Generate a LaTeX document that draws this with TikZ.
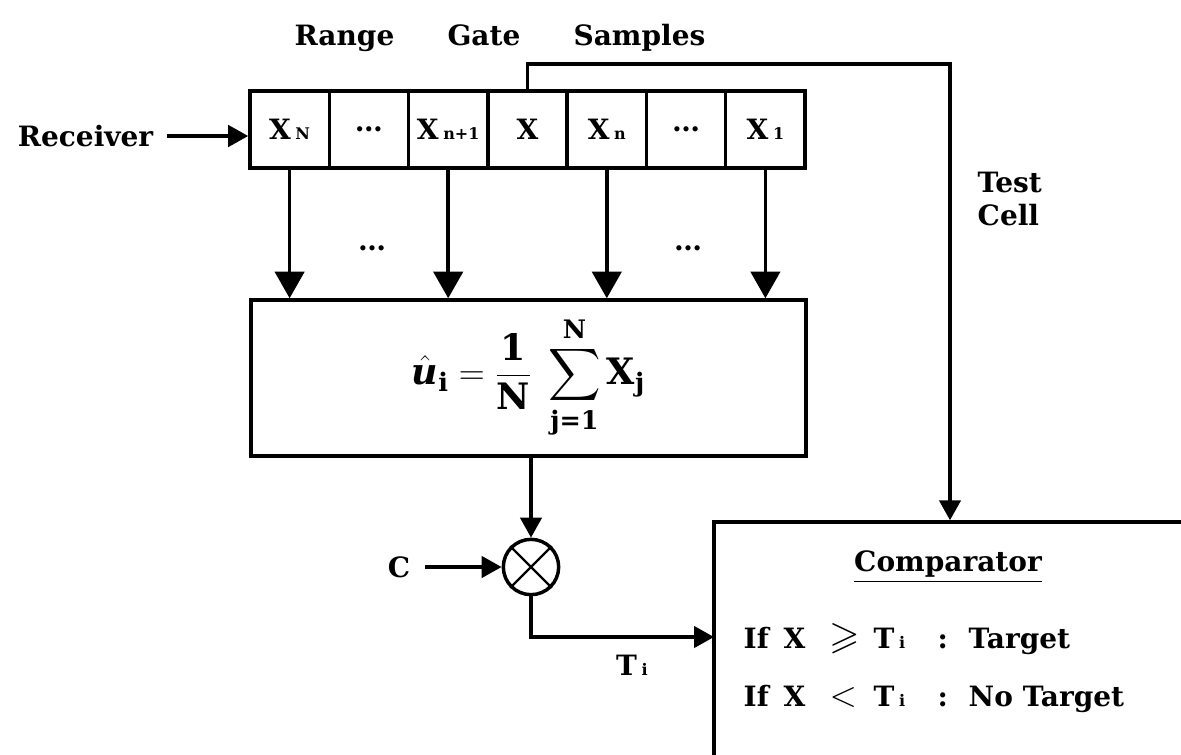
\documentclass[tikz,border=0pt]{standalone}
\usepackage{amsmath,amssymb,graphicx}
\usepackage{fontspec}
\setmainfont{DejaVu Serif}
\usetikzlibrary{arrows.meta}
\newcommand\lsub[1]{{\fontsize{12}{12}\selectfont #1}}
\begin{document}
\begin{tikzpicture}[x=0.75pt,y=-0.75pt,
  font=\bfseries\fontsize{21}{25}\selectfont,
  line width=2.6pt,
  cell/.style={draw, minimum width=59.47pt, minimum height=57.75pt, inner sep=0pt},
  arr/.style={-{Triangle[length=15pt,width=16pt]}},
  bigarr/.style={-{Triangle[length=20pt,width=22pt]}},
  lbl/.style={inner sep=0pt}]
\fill[white] (0,0) rectangle (1181,754);
\useasboundingbox (0,0) rectangle (1181,754);

\node[lbl] (title) at (500,38) {Range\hspace{1.9em}Gate\hspace{1.9em}Samples};
\node[lbl,anchor=east] (rec) at (155,136) {Receiver};

\node[cell] (c1) at (289.6,129.5) {X\,\lsub{N}};
\node[cell] (c2) at (368.9,129.5) {\dots};
\node[cell] (c3) at (448.2,129.5) {X\,\lsub{n+1}};
\node[cell] (c4) at (527.5,129.5) {X};
\node[cell] (c5) at (606.8,129.5) {X\,\lsub{n}};
\node[cell] (c6) at (686.1,129.5) {\dots};
\node[cell] (c7) at (765.4,129.5) {X\,\lsub{1}};

\draw[arr, shorten <=9pt] (rec.east) -- (c1.west |- rec.east);

\node[draw, minimum width=416.25pt, minimum height=117pt, inner sep=0pt] (fbox) at (528.5,378)
  {\scalebox{1.3}{$\displaystyle \hat{\text{\textit{u}}}_{\text{i}} = \frac{\text{1}}{\text{N}}\;\sum_{\text{j=1}}^{\text{N}} \text{X}_{\text{j}}$}};

\node[lbl, anchor=base] (d1) at (372,250) {\dots};
\node[lbl, anchor=base] (d2) at (688,250) {\dots};

\foreach \c in {c1,c3,c5,c7}
  \draw[bigarr] (\c.south) -- (\c.south |- fbox.north);

\node[draw, circle, minimum size=41.5pt, inner sep=0pt] (m) at (531,567) {};
\draw[line width=1.8pt] (m.north west) -- (m.south east) (m.north east) -- (m.south west);
\draw[arr] (m |- fbox.south) -- (m.north);

\node[lbl] (cin) at (399,567) {C};
\draw[arr, shorten <=10pt] (cin.east) -- (m.west);

\node[draw, minimum width=379.5pt, minimum height=208.5pt, inner sep=0pt] (cmp) at (967,661) {};
\coordinate (tcorner) at (950,64);
\draw[arr] (c4.north) |- (tcorner) -- (tcorner |- cmp.north);
\node[lbl, anchor=north west, align=left] (tcl) at (976,170) {Test\\Cell};

\coordinate (tin) at (714,637);
\draw[arr] (m.south) |- (tin);
\node[lbl] (ti) at (632,665) {T\,\lsub{i}};

\node[lbl] (ctitle) at (948,567) {\underline{Comparator}};
\node[lbl, anchor=base west] (r1) at (742,648)
  {\makebox[30pt][l]{If}\makebox[34.5pt][l]{X}\makebox[33pt][l]{\scalebox{1.4}{$\geqslant$}}\makebox[48pt][l]{T\,\lsub{i}}\makebox[23.25pt][l]{:}Target};
\node[lbl, anchor=base west] (r2) at (742,706)
  {\makebox[30pt][l]{If}\makebox[34.5pt][l]{X}\makebox[33pt][l]{\scalebox{1.3}{$<$}}\makebox[48pt][l]{T\,\lsub{i}}\makebox[23.25pt][l]{:}No Target};
\end{tikzpicture}
\end{document}
